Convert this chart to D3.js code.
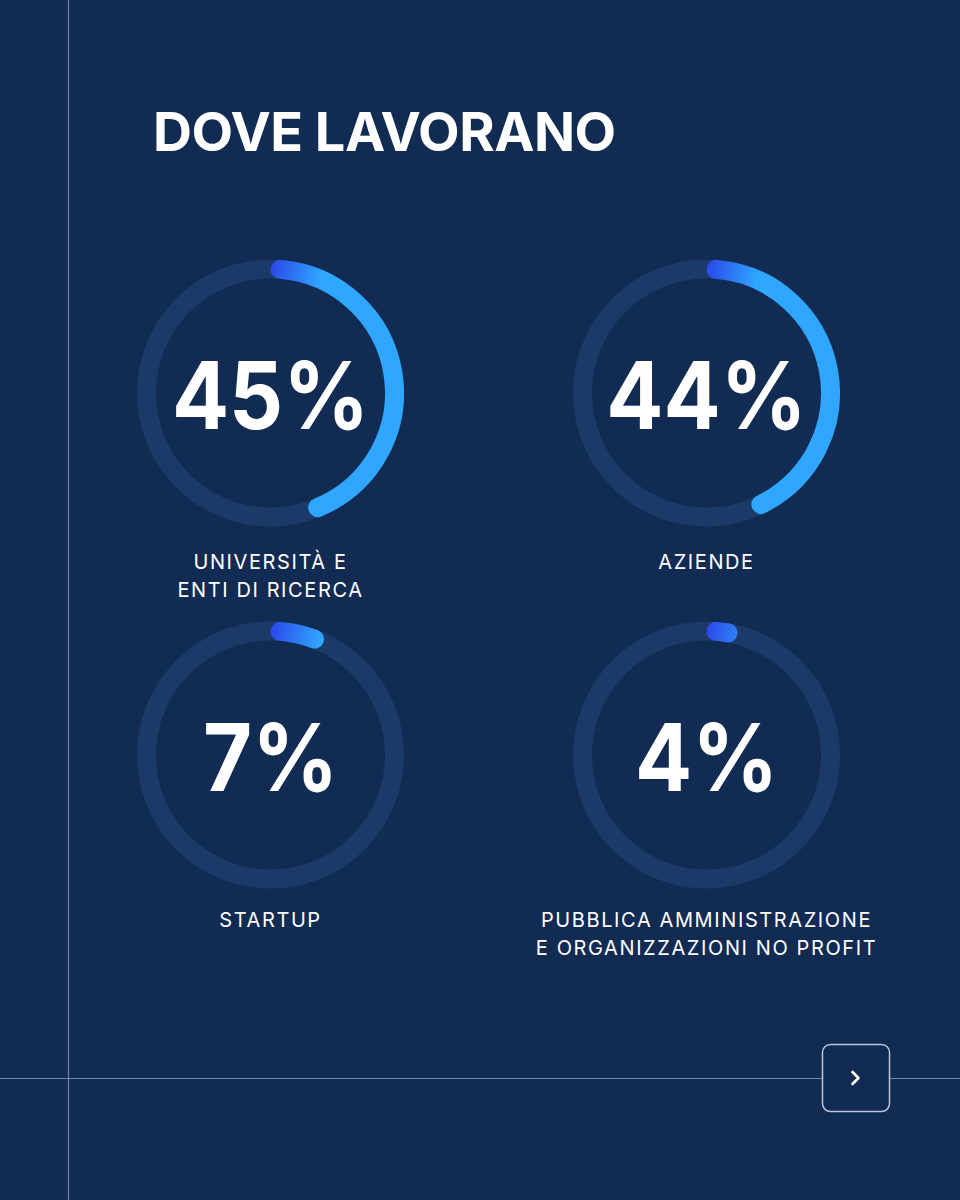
<!DOCTYPE html>
<html><head><meta charset="utf-8">
<script src="https://cdn.jsdelivr.net/npm/d3@7"></script>
<style>html,body{margin:0;padding:0;background:#122b53;}svg{display:block;}</style>
</head><body>
<script>
const title = "DOVE LAVORANO";
const categories = [["UNIVERSITÀ E","ENTI DI RICERCA"],["AZIENDE"],["STARTUP"],["PUBBLICA AMMINISTRAZIONE","E ORGANIZZAZIONI NO PROFIT"]];
const values = [45, 44, 7, 4];
const labels = ["45%","44%","7%","4%"];

const W = 960, H = 1200;
const svg = d3.select("body").append("svg").attr("width", W).attr("height", H);
svg.append("rect").attr("width", W).attr("height", H).attr("fill", "#122b53");

// frame lines
svg.append("line").attr("x1",68.5).attr("x2",68.5).attr("y1",0).attr("y2",H).attr("stroke","#8a9cc0").attr("stroke-width",1.2).attr("opacity",0.8);
svg.append("line").attr("x1",0).attr("x2",W).attr("y1",1078.5).attr("y2",1078.5).attr("stroke","#8a9cc0").attr("stroke-width",1.2).attr("opacity",0.8);

// title
svg.append("text").attr("x",153).attr("y",151).text(title)
  .attr("fill","#fff").attr("font-family","Inter").attr("font-weight",700).attr("font-size",54).attr("letter-spacing",-0.5);

const col = d3.scaleOrdinal().domain([0,1]).range([270.5, 706.5]);
const row = d3.scaleOrdinal().domain([0,1]).range([393, 755]);
const labelOff = d3.scaleOrdinal().domain([0,1]).range([176, 172]);
const angle = d3.scaleLinear().domain([0,100]).range([0, 2*Math.PI]);
const R = 124, SW = 19;

const defs = svg.append("defs");

values.forEach((v,i)=>{
  const r = Math.floor(i/2);
  const cx = col(i%2), cy = row(r);
  const g = svg.append("g").attr("transform",`translate(${cx},${cy})`);
  g.append("circle").attr("r",R).attr("fill","none").attr("stroke","#1c3a68").attr("stroke-width",SW);
  const gid = "grad"+i;
  const lg = defs.append("linearGradient").attr("id",gid).attr("gradientUnits","userSpaceOnUse")
    .attr("x1",-6).attr("y1",-R).attr("x2",50).attr("y2",-R+12);
  lg.append("stop").attr("offset",0).attr("stop-color","#2a3de6");
  lg.append("stop").attr("offset",1).attr("stop-color","#2fa6ff");
  const a = angle(v);
  const capA = (SW/2)/R;
  const a0 = capA, a1 = a - capA;
  const p = d3.path();
  p.arc(0,0,R,-Math.PI/2 + a0, -Math.PI/2 + Math.max(a1,a0+0.01), false);
  g.append("path").attr("d", p.toString())
    .attr("fill","none").attr("stroke",`url(#${gid})`).attr("stroke-width",SW).attr("stroke-linecap","round");
  g.append("text").attr("x",0).attr("y",36).attr("text-anchor","middle").text(labels[i])
    .attr("transform","scale(0.9,1)")
    .attr("fill","#fff").attr("font-family","Inter").attr("font-weight",700).attr("font-size",94);
  categories[i].forEach((t,j)=>{
    g.append("text").attr("x",0).attr("y",labelOff(r) + j*28).attr("text-anchor","middle").text(t)
      .attr("fill","#fff").attr("font-family","Inter").attr("font-weight",400).attr("font-size",20).attr("letter-spacing",1.6);
  });
});

// next button
svg.append("rect").attr("x",822.5).attr("y",1044.5).attr("width",67).attr("height",67).attr("rx",8)
  .attr("fill","#122b53").attr("stroke","#b8c6e0").attr("stroke-width",1.5);
svg.append("path").attr("d","M852.5,1072 L858.5,1078 L852.5,1084").attr("fill","none").attr("stroke","#fff")
  .attr("stroke-width",2.6).attr("stroke-linecap","round").attr("stroke-linejoin","round");
</script>
</body></html>
